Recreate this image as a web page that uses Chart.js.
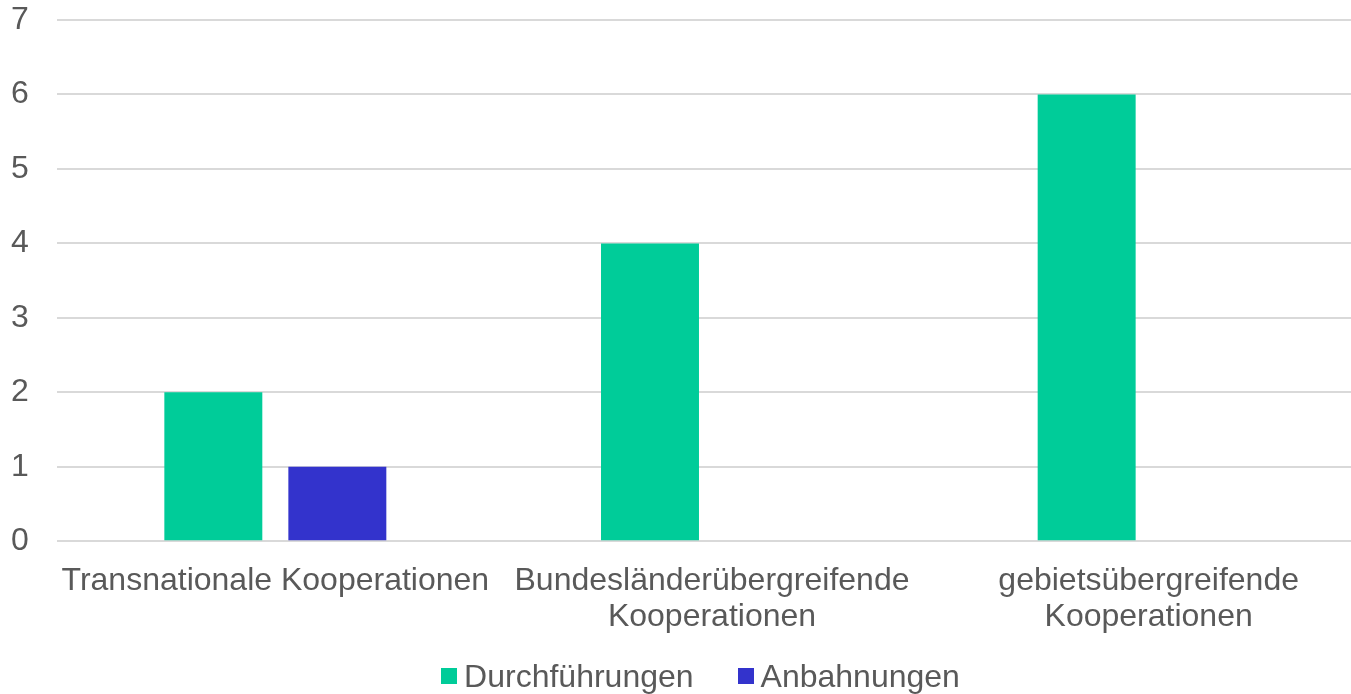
<!DOCTYPE html>
<html lang="de">
<head>
<meta charset="utf-8">
<title>Kooperationen</title>
<script src="https://cdn.jsdelivr.net/npm/chart.js@4"></script>
<style>
  html, body {
    margin: 0;
    padding: 0;
    background: #ffffff;
    width: 1351px;
    height: 694px;
    overflow: hidden;
    font-family: "Liberation Sans", Arial, sans-serif;
  }
  .chart-wrap {
    position: absolute;
    left: 0;
    top: 0;
    width: 1367px;
    height: 657px;
  }
  .legend {
    position: absolute;
    left: 0;
    top: 654px;
    width: 1351px;
    height: 44px;
    padding-left: 50px;
    box-sizing: border-box;
    display: flex;
    justify-content: center;
    align-items: center;
    color: #595959;
    font-size: 32px;
  }
  .legend-item {
    display: flex;
    align-items: center;
    margin: 0 22px;
  }
  .legend-box {
    width: 16px;
    height: 16px;
    margin-right: 7px;
  }
</style>
</head>
<body>
<div class="chart-wrap"><canvas id="chart"></canvas></div>
<div class="legend" id="legend"></div>

<script>
const categories = [
  "Transnationale Kooperationen",
  ["Bundesländerübergreifende", "Kooperationen"],
  ["gebietsübergreifende", "Kooperationen"]
];
const seriesNames = ["Durchführungen", "Anbahnungen"];
const durchfuehrungen = [2, 4, 6];
const anbahnungen = [1, null, null];
const yTicks = [0, 1, 2, 3, 4, 5, 6, 7];

const colors = ["#00CC99", "#3333CC"];
const textColor = "#595959";
const fontFamily = "'Liberation Sans', Arial, sans-serif";
const fontSize = 32;

const ctx = document.getElementById("chart");

const chart = new Chart(ctx, {
  type: "bar",
  data: {
    labels: categories,
    datasets: [
      {
        label: seriesNames[0],
        data: durchfuehrungen,
        backgroundColor: colors[0],
        borderWidth: 0,
        categoryPercentage: 0.568,
        barPercentage: 0.79
      },
      {
        label: seriesNames[1],
        data: anbahnungen,
        backgroundColor: colors[1],
        borderWidth: 0,
        categoryPercentage: 0.568,
        barPercentage: 0.79
      }
    ]
  },
  options: {
    responsive: true,
    maintainAspectRatio: false,
    animation: false,
    layout: {
      padding: { top: 20, right: 0, bottom: 0, left: 11 }
    },
    plugins: {
      legend: { display: false },
      tooltip: { enabled: false }
    },
    scales: {
      x: {
        grid: { display: false, drawTicks: false },
        border: { display: false },
        ticks: {
          color: textColor,
          font: { family: fontFamily, size: fontSize, lineHeight: 1.12 },
          padding: 22,
          maxRotation: 0,
          autoSkip: false
        }
      },
      y: {
        min: 0,
        max: 7,
        afterBuildTicks: (scale) => {
          scale.ticks = yTicks.map((v) => ({ value: v }));
        },
        afterFit: (scale) => {
          scale.width = 46;
        },
        grid: {
          color: "#d9d9d9",
          lineWidth: 2,
          drawTicks: false
        },
        border: { display: false },
        ticks: {
          color: textColor,
          font: { family: fontFamily, size: fontSize },
          crossAlign: "far",
          padding: 0
        }
      }
    }
  }
});

// HTML legend from the dataset names and colours
const legendEl = document.getElementById("legend");
seriesNames.forEach((name, i) => {
  const item = document.createElement("div");
  item.className = "legend-item";
  const box = document.createElement("span");
  box.className = "legend-box";
  box.style.background = colors[i];
  const label = document.createElement("span");
  label.textContent = name;
  item.appendChild(box);
  item.appendChild(label);
  legendEl.appendChild(item);
});
</script>
</body>
</html>
